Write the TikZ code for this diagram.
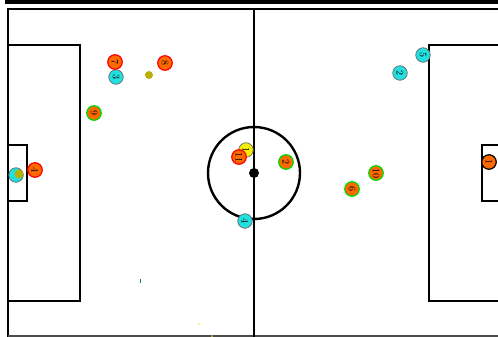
\documentclass[tikz,border=0pt]{standalone}
\usepackage{xcolor}
\usepackage{tikz}
\usetikzlibrary{positioning}
\definecolor{homefill}{HTML}{FF6A00}
\definecolor{awayfill}{HTML}{22E0E0}
\definecolor{keeper}{HTML}{F5F000}
\definecolor{ballcol}{HTML}{B8B000}

\begin{document}
\begin{tikzpicture}[
      x=1pt, y=-1pt,
      line/.style={draw=black, line width=2.4pt},
      redp/.style={circle, draw=red, line width=1.2pt, fill=homefill,
                   minimum size=14.5pt, inner sep=0pt, rotate=-90,
                   font=\fontsize{10}{10}\selectfont},
      grnp/.style={redp, draw=green!85!black},
      gkp/.style={redp, draw=black},
      cyanp/.style={redp, draw=black!60, line width=0.7pt, fill=awayfill},
      yelp/.style={cyanp, fill=keeper},
      ball/.style={circle, fill=ballcol, minimum size=8pt, inner sep=0pt},
    ]
    \useasboundingbox (0,0) rectangle (498,337);
    \fill[white] (0,0) rectangle (498,337);

    % pitch
    \fill[black] (5,0) rectangle (498,4);
    \draw[line] (8,337) -- (8,9) -- (498,9);
    \draw[line, draw=black!70, line width=1.8pt] (8,336) -- (498,336);
    \draw[line] (254,9) -- (254,337);
    \draw[line] (8,45) -- (80,45) -- (80,301) -- (8,301);
    \draw[line] (8,145) -- (27,145) -- (27,201) -- (8,201);
    \draw[line] (498,45) -- (429,45) -- (429,301) -- (498,301);
    \draw[line] (498,145) -- (482,145) -- (482,201) -- (498,201);
    \draw[line] (254,173) circle (46);
    \fill[black] (254,173) circle (5);

    % stray marks
    \fill[teal] (139.5,279) rectangle (140.5,283);
    \fill[yellow] (199,324) circle (1);
    \fill[yellow!80!black] (212,336) circle (1);

    % cyan team
    \node[cyanp] (c3) at (116,77)  {3};
    \node[cyanp] (c2) at (400,73)  {2};
    \node[cyanp] (c5) at (423,55)  {5};
    \node[cyanp] (c4) at (245,221) {4};
    \node[cyanp] (c1) at (16,175)  {};
    \node[yelp]  (y1) at (246,150) {1};

    % red team
    \node[redp] (r7)  at (115,62)  {7};
    \node[redp] (r8)  at (165,63)  {8};
    \node[redp] (r4)  at (35,170)  {4};
    \node[redp] (r11) at (239,157) {11};

    % green-ringed team
    \node[grnp] (g9)  at (94,113)  {9};
    \node[grnp] (g2)  at (286,162) {2};
    \node[grnp] (g10) at (376,173) {10};
    \node[grnp] (g6)  at (352,189) {6};
    \node[gkp]  (g1)  at (489,162) {1};

    % balls
    \node[ball] (b1) at (149,75) {};
    \node[ball, minimum size=9pt] (b2) at (19,174) {};
  \end{tikzpicture}
\end{document}
